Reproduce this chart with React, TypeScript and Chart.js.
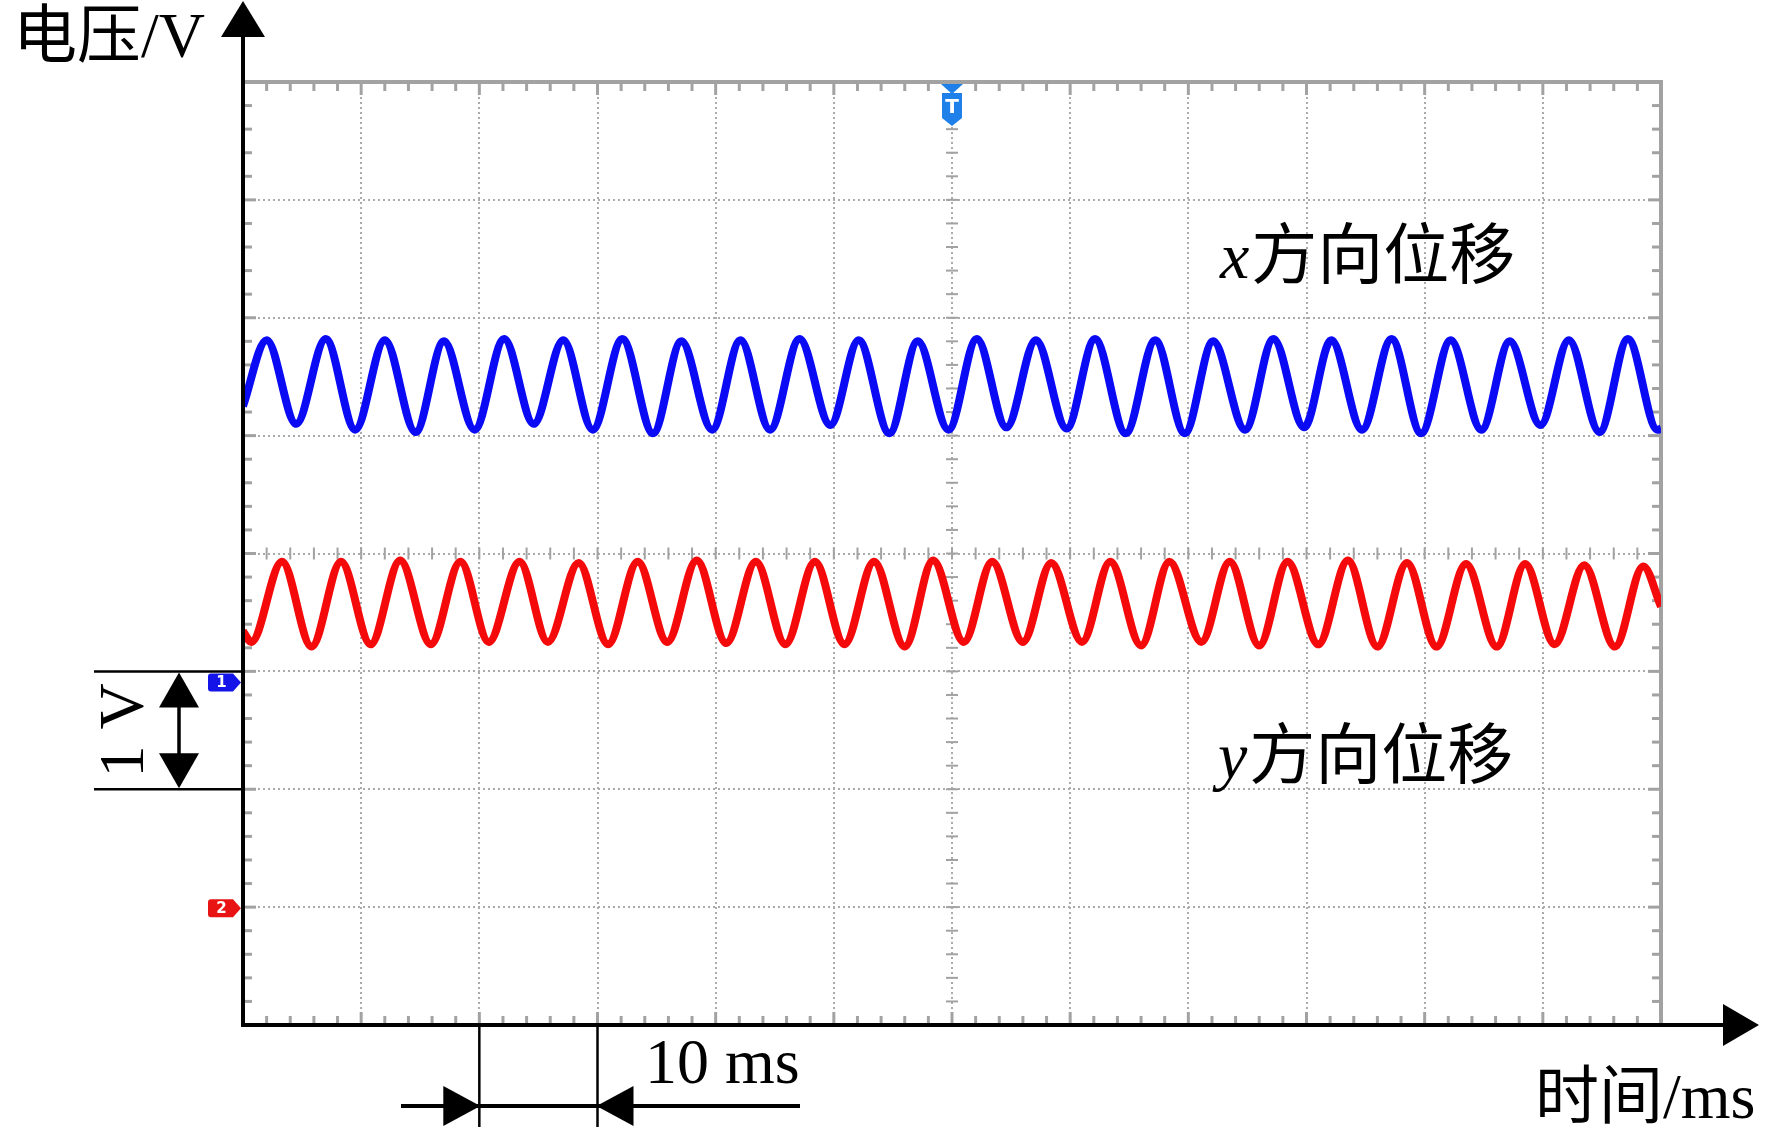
import { useEffect, useRef } from "react";
import { Chart, registerables } from "chart.js";
import type { Plugin } from "chart.js";

Chart.register(...registerables);

// 12 div x 10 ms, 8 div x 1 V
const timeMax = 120;
const voltMax = 8;
const timeStep = 10;
const voltStep = 1;

// channel 1 (x displacement): peaks / troughs
const blueTimes = [
  0, 2.0, 4.5, 7.0, 9.5, 12.0, 14.6, 17.0, 19.6, 22.1, 24.6, 27.1, 29.6, 32.1, 34.7, 37.1, 39.7,
  42.1, 44.6, 47.1, 49.7, 52.1, 54.7, 57.1, 59.7, 62.1, 64.6, 67.1, 69.7, 72.1, 74.7, 77.2, 79.7,
  82.1, 84.8, 87.2, 89.8, 92.1, 94.7, 97.2, 99.7, 102.2, 104.8, 107.2, 109.8, 112.2, 114.8, 117.2,
  119.7, 120,
];
const blueVolts = [
  5.25, 5.81, 5.1, 5.82, 5.05, 5.81, 5.03, 5.8, 5.05, 5.82, 5.1, 5.81, 5.05, 5.82, 5.02, 5.8, 5.05,
  5.81, 5.05, 5.82, 5.09, 5.81, 5.02, 5.8, 5.05, 5.82, 5.07, 5.81, 5.06, 5.82, 5.02, 5.81, 5.02,
  5.8, 5.05, 5.82, 5.07, 5.81, 5.05, 5.82, 5.02, 5.81, 5.05, 5.8, 5.09, 5.81, 5.03, 5.82, 5.05,
  5.06,
];

// channel 2 (y displacement)
const redTimes = [
  0, 0.7, 3.3, 5.8, 8.3, 10.8, 13.3, 15.9, 18.4, 20.8, 23.4, 25.8, 28.4, 30.9, 33.4, 35.9, 38.4,
  40.9, 43.4, 45.9, 48.4, 50.9, 53.4, 56.0, 58.4, 61.0, 63.4, 66.0, 68.4, 71.0, 73.4, 76.0, 78.4,
  81.1, 83.5, 86.0, 88.4, 91.0, 93.5, 96.0, 98.5, 101.0, 103.5, 106.1, 108.5, 111.0, 113.5, 116.1,
  118.5, 120,
];
const redVolts = [
  3.34, 3.25, 3.93, 3.21, 3.93, 3.23, 3.94, 3.23, 3.93, 3.25, 3.93, 3.25, 3.92, 3.23, 3.93, 3.25,
  3.94, 3.24, 3.93, 3.23, 3.93, 3.23, 3.93, 3.21, 3.94, 3.25, 3.93, 3.25, 3.92, 3.25, 3.93, 3.22,
  3.93, 3.25, 3.93, 3.22, 3.93, 3.23, 3.94, 3.21, 3.92, 3.21, 3.91, 3.21, 3.91, 3.23, 3.9, 3.21,
  3.89, 3.55,
];

const SERIF = '"Liberation Serif", "Times New Roman", "Noto Sans CJK SC", serif';

const line = (ctx: CanvasRenderingContext2D, x1: number, y1: number, x2: number, y2: number) => {
  ctx.beginPath();
  ctx.moveTo(x1, y1);
  ctx.lineTo(x2, y2);
  ctx.stroke();
};

const tri = (ctx: CanvasRenderingContext2D, pts: number[]) => {
  ctx.beginPath();
  ctx.moveTo(pts[0], pts[1]);
  ctx.lineTo(pts[2], pts[3]);
  ctx.lineTo(pts[4], pts[5]);
  ctx.closePath();
  ctx.fill();
};

const channelTag = (ctx: CanvasRenderingContext2D, cy: number, color: string, label: string) => {
  const l = 208, r = 241, h = 18, tip = 8, rad = 3;
  ctx.fillStyle = color;
  ctx.beginPath();
  ctx.moveTo(l + rad, cy - h / 2);
  ctx.lineTo(r - tip, cy - h / 2);
  ctx.lineTo(r, cy);
  ctx.lineTo(r - tip, cy + h / 2);
  ctx.lineTo(l + rad, cy + h / 2);
  ctx.quadraticCurveTo(l, cy + h / 2, l, cy + h / 2 - rad);
  ctx.lineTo(l, cy - h / 2 + rad);
  ctx.quadraticCurveTo(l, cy - h / 2, l + rad, cy - h / 2);
  ctx.fill();
  ctx.fillStyle = "#fff";
  ctx.font = 'bold 15px "DejaVu Sans", sans-serif';
  ctx.textAlign = "center";
  ctx.textBaseline = "middle";
  ctx.fillText(label, (l + r - tip) / 2 + 1, cy + 1);
};

const scopePlugin: Plugin<"line"> = {
  id: "scope",
  beforeDatasetsDraw(chart) {
    const { ctx, chartArea: a } = chart;
    const x = chart.scales.x;
    const y = chart.scales.y;
    ctx.save();
    ctx.strokeStyle = "#a2a2a2";
    ctx.lineWidth = 4;
    ctx.strokeRect(a.left, a.top, a.right - a.left, a.bottom - a.top);

    ctx.lineWidth = 3;
    for (let i = 0; i <= (timeMax / timeStep) * 5; i++) {
      const px = x.getPixelForValue((i * timeStep) / 5);
      const len = i % 5 === 0 ? 13 : 9;
      line(ctx, px, a.top, px, a.top + len);
      line(ctx, px, a.bottom, px, a.bottom - len);
    }
    for (let i = 0; i <= (voltMax / voltStep) * 5; i++) {
      const py = y.getPixelForValue((i * voltStep) / 5);
      const len = i % 5 === 0 ? 13 : 9;
      line(ctx, a.left, py, a.left + len, py);
      line(ctx, a.right, py, a.right - len, py);
    }

    // centre cross ticks
    ctx.lineWidth = 2;
    const cx = x.getPixelForValue(timeMax / 2);
    const cy = y.getPixelForValue(voltMax / 2);
    for (let i = 0; i <= (timeMax / timeStep) * 5; i++) {
      const px = x.getPixelForValue((i * timeStep) / 5);
      line(ctx, px, cy - 6, px, cy + 6);
    }
    for (let i = 0; i <= (voltMax / voltStep) * 5; i++) {
      const py = y.getPixelForValue((i * voltStep) / 5);
      line(ctx, cx - 6, py, cx + 6, py);
    }
    ctx.restore();
  },
  afterDraw(chart) {
    const { ctx, chartArea: a } = chart;
    const x = chart.scales.x;
    const y = chart.scales.y;
    ctx.save();

    // trigger marker
    const tx = x.getPixelForValue(timeMax / 2);
    ctx.fillStyle = "#1f80ea";
    tri(ctx, [tx - 11, a.top + 2, tx + 11, a.top + 2, tx, a.top + 12]);
    ctx.beginPath();
    ctx.moveTo(tx - 10, a.top + 11);
    ctx.lineTo(tx + 10, a.top + 11);
    ctx.lineTo(tx + 10, a.top + 36);
    ctx.lineTo(tx, a.top + 44);
    ctx.lineTo(tx - 10, a.top + 36);
    ctx.closePath();
    ctx.fill();
    ctx.fillStyle = "#fff";
    ctx.font = 'bold 20px "DejaVu Sans", sans-serif';
    ctx.textAlign = "center";
    ctx.textBaseline = "middle";
    ctx.fillText("T", tx, a.top + 26);

    channelTag(ctx, y.getPixelForValue(3) + 11, "#1414e8", "1");
    channelTag(ctx, y.getPixelForValue(1) + 1, "#e81414", "2");

    // axes with arrows
    ctx.strokeStyle = "#000";
    ctx.fillStyle = "#000";
    ctx.lineWidth = 4;
    line(ctx, a.left, a.bottom + 2, a.left, 36);
    tri(ctx, [a.left, 1, a.left - 22, 37, a.left + 22, 37]);
    line(ctx, a.left - 2, a.bottom, 1724, a.bottom);
    tri(ctx, [1759, a.bottom, 1723, a.bottom - 21, 1723, a.bottom + 21]);

    // 1 V scale bar
    const v3 = y.getPixelForValue(3);
    const v2 = y.getPixelForValue(2);
    ctx.lineWidth = 2.5;
    line(ctx, 94, v3, a.left, v3);
    line(ctx, 94, v2, a.left, v2);
    ctx.lineWidth = 3.5;
    line(ctx, 179, v3 + 30, 179, v2 - 30);
    tri(ctx, [179, v3 + 1, 159, v3 + 36, 199, v3 + 36]);
    tri(ctx, [179, v2 - 1, 159, v2 - 36, 199, v2 - 36]);

    // 10 ms scale bar
    const t20 = x.getPixelForValue(20);
    const t30 = x.getPixelForValue(30);
    ctx.lineWidth = 2.5;
    line(ctx, t20, a.bottom, t20, 1127);
    line(ctx, t30, a.bottom, t30, 1127);
    ctx.lineWidth = 4;
    line(ctx, 401, 1106, 800, 1106);
    tri(ctx, [t20 + 1, 1106, t20 - 36, 1086, t20 - 36, 1126]);
    tri(ctx, [t30 - 1, 1106, t30 + 36, 1086, t30 + 36, 1126]);

    // texts
    ctx.textAlign = "left";
    ctx.textBaseline = "alphabetic";
    ctx.font = `64px ${SERIF}`;
    ctx.fillText("电压/V", 13, 57);
    ctx.fillText("10 ms", 645, 1083);
    ctx.fillText("时间/ms", 1535, 1118);

    const label = (v: string, lx: number, ly: number) => {
      ctx.font = `italic 66px ${SERIF}`;
      ctx.fillText(v, lx, ly);
      const w = ctx.measureText(v).width;
      ctx.font = `66px ${SERIF}`;
      ctx.fillText("方向位移", lx + w + 2, ly);
    };
    label("x", 1220, 278);
    label("y", 1218, 778);

    ctx.save();
    ctx.translate(143, (v3 + v2) / 2);
    ctx.rotate(-Math.PI / 2);
    ctx.textAlign = "center";
    ctx.font = `64px ${SERIF}`;
    ctx.fillText("1 V", 0, 0);
    ctx.restore();

    ctx.restore();
  },
};

export default function App() {
  const canvasRef = useRef<HTMLCanvasElement | null>(null);

  useEffect(() => {
    document.body.style.margin = "0";
    if (!canvasRef.current) return;
    const chart = new Chart(canvasRef.current, {
      type: "line",
      data: {
        datasets: [
          {
            label: "x方向位移",
            data: blueTimes.map((t, i) => ({ x: t, y: blueVolts[i] })),
            borderColor: "#0a0af4",
            borderWidth: 8,
            pointRadius: 0,
            cubicInterpolationMode: "monotone",
          },
          {
            label: "y方向位移",
            data: redTimes.map((t, i) => ({ x: t, y: redVolts[i] })),
            borderColor: "#f40a0a",
            borderWidth: 8,
            pointRadius: 0,
            cubicInterpolationMode: "monotone",
          },
        ],
      },
      options: {
        responsive: false,
        animation: false,
        devicePixelRatio: 1,
        layout: { padding: { left: 243, top: 82, right: 111, bottom: 111 } },
        plugins: {
          legend: { display: false },
          tooltip: { enabled: false },
        },
        scales: {
          x: {
            type: "linear",
            min: 0,
            max: timeMax,
            ticks: { display: false, stepSize: timeStep },
            grid: { color: "#ababab", lineWidth: 2, drawTicks: false },
            border: { display: false, dash: [2, 3] },
          },
          y: {
            type: "linear",
            min: 0,
            max: voltMax,
            ticks: { display: false, stepSize: voltStep },
            grid: { color: "#ababab", lineWidth: 2, drawTicks: false },
            border: { display: false, dash: [2, 3] },
          },
        },
      },
      plugins: [scopePlugin],
    });
    return () => chart.destroy();
  }, []);

  return (
    <div style={{ width: 1772, height: 1136, background: "#fff" }}>
      <canvas ref={canvasRef} width={1772} height={1136} style={{ width: 1772, height: 1136 }} />
    </div>
  );
}
